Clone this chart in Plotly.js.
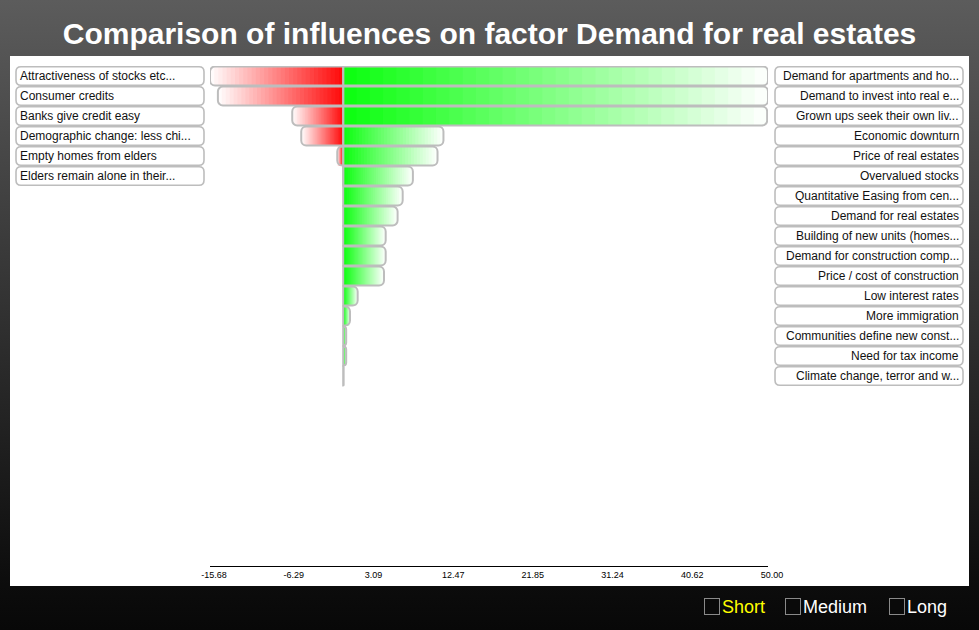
<!DOCTYPE html>
<html>
<head>
<meta charset="utf-8">
<script src="https://cdn.plot.ly/plotly-3.0.1.min.js"></script>
<style>
  html, body { margin: 0; padding: 0; }
  body {
    width: 979px; height: 630px; overflow: hidden; position: relative;
    background: linear-gradient(to bottom, #5c5c5c 0px, #0c0c0c 586px, #080808 630px);
    font-family: "Liberation Sans", Arial, sans-serif;
  }
  #panel { position: absolute; left: 10px; top: 56px; width: 959px; height: 530px; background: #fff; }
  #chart { position: absolute; left: 0; top: 0; width: 979px; height: 630px; }
  .opt { position: absolute; top: 596px; font-size: 18px; color: #fff; line-height: 22px; }
  .opt .box { display: inline-block; width: 14px; height: 15px; border: 1px solid #8a8a8a; vertical-align: -2px; margin-right: 2px; background: #0a0a0a; }
</style>
</head>
<body>
<div id="panel"></div>
<div id="chart"></div>
<div class="opt" style="left:704px;"><span class="box"></span><span style="color:#ffff00">Short</span></div>
<div class="opt" style="left:785px;"><span class="box"></span><span>Medium</span></div>
<div class="opt" style="left:889px;"><span class="box"></span><span>Long</span></div>
<script>
// ---- data ----
const chartTitle = "Comparison of influences on factor Demand for real estates";
const leftLabels = [
  "Attractiveness of stocks etc...",
  "Consumer credits",
  "Banks give credit easy",
  "Demographic change: less chi...",
  "Empty homes from elders",
  "Elders remain alone in their..."
];
const negValues = [-15.68, -14.75, -6.0, -4.94, -0.7, 0];
const rightLabels = [
  "Demand for apartments and ho...",
  "Demand to invest into real e...",
  "Grown ups seek their own liv...",
  "Economic downturn",
  "Price of real estates",
  "Overvalued stocks",
  "Quantitative Easing from cen...",
  "Demand for real estates",
  "Building of new units (homes...",
  "Demand for construction comp...",
  "Price / cost of construction",
  "Low interest rates",
  "More immigration",
  "Communities define new const...",
  "Need for tax income",
  "Climate change, terror and w..."
];
const posValues = [50, 50, 49.9, 11.8, 11.1, 8.2, 7.0, 6.4, 5.0, 5.0, 4.8, 1.7, 0.8, 0.35, 0.35, 0.05];
const tickVals = [-15.68, -6.29, 3.09, 12.47, 21.85, 31.24, 40.62, 50.00];
const tickText = ["-15.68", "-6.29", "3.09", "12.47", "21.85", "31.24", "40.62", "50.00"];

// ---- build ----
const negRows = leftLabels.map((_, i) => i);
const posRows = rightLabels.map((_, i) => i);
const RED = [255, 8, 8], GREEN = [10, 255, 14];
function mix(c, f) {
  const r = Math.round(c[0] + (255 - c[0]) * f);
  const g = Math.round(c[1] + (255 - c[1]) * f);
  const b = Math.round(c[2] + (255 - c[2]) * f);
  return `rgb(${r},${g},${b})`;
}
const N = 32;
const BW = 0.95;
const traces = [];
function addGradient(vals, rows, base) {
  for (let k = 0; k < N; k++) {
    const frac = (N - k - 0.5) / N;
    traces.push({
      type: 'bar', orientation: 'h',
      y: rows, x: vals.map(v => v * (N - k) / N),
      width: BW,
      marker: { color: mix(base, frac), line: { width: 0 }, cornerradius: k === 0 ? 5 : 0 },
      hoverinfo: 'skip', showlegend: false
    });
  }
}
addGradient(negValues, negRows, RED);
addGradient(posValues, posRows, GREEN);
[[negValues, negRows], [posValues, posRows]].forEach(([vals, rows]) => {
  traces.push({
    type: 'bar', orientation: 'h', y: rows, x: vals, width: BW,
    marker: { color: 'rgba(0,0,0,0)', line: { color: '#bdbdbd', width: 2 }, cornerradius: 5 },
    hoverinfo: 'skip', showlegend: false
  });
});

function roundRect(x0, x1, y0, y1, r) {
  return `M ${x0 + r},${y0} H ${x1 - r} Q ${x1},${y0} ${x1},${y0 + r} V ${y1 - r} Q ${x1},${y1} ${x1 - r},${y1} H ${x0 + r} Q ${x0},${y1} ${x0},${y1 - r} V ${y0 + r} Q ${x0},${y0} ${x0 + r},${y0} Z`;
}
const shapes = [], annotations = [];
const labelFont = { family: 'Liberation Sans, Arial, sans-serif', size: 12, color: '#111' };
leftLabels.forEach((t, i) => {
  shapes.push({
    type: 'path', xref: 'paper', yref: 'y', xsizemode: 'pixel', ysizemode: 'pixel',
    xanchor: 0, yanchor: i, path: roundRect(-194, -6, -9.2, 9.2, 5),
    line: { color: '#bdbdbd', width: 1.6 }, fillcolor: '#fff', layer: 'below'
  });
  annotations.push({
    xref: 'paper', yref: 'y', x: 0, y: i, xanchor: 'left', yanchor: 'middle', xshift: -192,
    text: t, showarrow: false, align: 'left', font: labelFont
  });
});
rightLabels.forEach((t, i) => {
  shapes.push({
    type: 'path', xref: 'paper', yref: 'y', xsizemode: 'pixel', ysizemode: 'pixel',
    xanchor: 1, yanchor: i, path: roundRect(7, 195, -9.2, 9.2, 5),
    line: { color: '#bdbdbd', width: 1.6 }, fillcolor: '#fff', layer: 'below'
  });
  annotations.push({
    xref: 'paper', yref: 'y', x: 1, y: i, xanchor: 'right', yanchor: 'middle', xshift: 193,
    text: t, showarrow: false, align: 'right', font: labelFont
  });
});

const layout = {
  width: 979, height: 630,
  margin: { l: 210, r: 211, t: 66, b: 64 },
  paper_bgcolor: 'rgba(0,0,0,0)', plot_bgcolor: 'rgba(0,0,0,0)',
  barmode: 'overlay',
  title: {
    text: chartTitle, xref: 'container', x: 0.5, xanchor: 'center',
    yref: 'container', y: 1 - 33 / 630, yanchor: 'middle',
    font: { family: 'Liberation Sans, Arial, sans-serif', size: 30, weight: 'bold', color: '#fff' }
  },
  xaxis: {
    range: [tickVals[0], tickVals[tickVals.length - 1]],
    tickvals: tickVals, ticktext: tickText, ticks: '',
    showgrid: false, zeroline: false, showline: true, linecolor: '#000', linewidth: 1,
    tickfont: { family: 'Liberation Sans, Arial, sans-serif', size: 9, color: '#000' },
    ticklabelshift: 4, fixedrange: true
  },
  yaxis: { range: [24.5, -0.5], visible: false, showgrid: false, zeroline: false, fixedrange: true },
  shapes: shapes, annotations: annotations
};
Plotly.newPlot('chart', traces, layout, { displayModeBar: false, staticPlot: true });
</script>
</body>
</html>
